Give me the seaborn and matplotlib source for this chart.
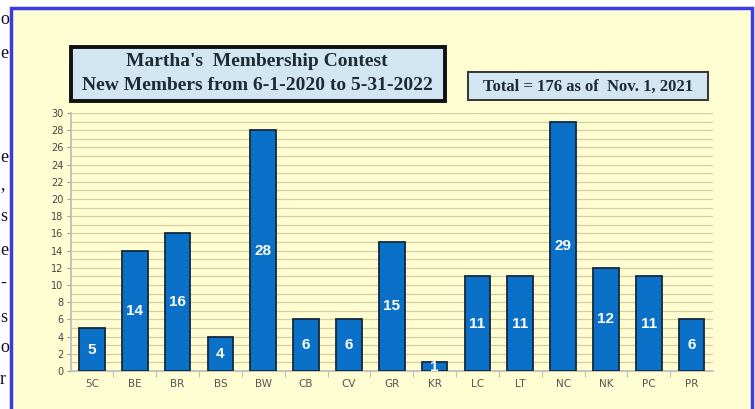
import pandas as pd
import matplotlib.pyplot as plt
import seaborn as sns
from matplotlib.patches import Rectangle
from matplotlib.ticker import MultipleLocator

clubs = ['5C', 'BE', 'BR', 'BS', 'BW', 'CB', 'CV', 'GR', 'KR', 'LC', 'LT', 'NC', 'NK', 'PC', 'PR']
members = [5, 14, 16, 4, 28, 6, 6, 15, 1, 11, 11, 29, 12, 11, 6]
title_lines = ["Martha's  Membership Contest", "New Members from 6-1-2020 to 5-31-2022"]
total_text = "Total = 176 as of  Nov. 1, 2021"
# stray letters from the page the chart was cut out of
margin_chars = ['o', 'e', 'e', ',', 's', 'e', '-', 's', 'o', 'r']
margin_y = [20, 53, 157, 185, 217, 250, 283, 317, 348, 380]

df = pd.DataFrame({'club': clubs, 'members': members})

sns.set_theme(style='white')
W, H = 755, 409
fig = plt.figure(figsize=(W / 100, H / 100), dpi=100)
fig.patch.set_facecolor('white')

def fx(px):
    return px / W

def fy(py):
    return 1 - py / H

# yellow panel with blue frame
fig.patches.append(Rectangle((fx(11), fy(412)), fx(741), (412 - 8) / H,
                             transform=fig.transFigure, facecolor='#FFFDD2',
                             edgecolor='#3A3AE6', linewidth=2.5, zorder=0))

for ch, yy in zip(margin_chars, margin_y):
    fig.text(fx(0), fy(yy), ch, fontsize=13, family='Liberation Serif',
             color='#111111', va='center', ha='left')

ax = fig.add_axes([fx(70.5), fy(371), fx(713 - 70.5), (371 - 113) / H])
ax.set_zorder(3)
ax.set_facecolor('#FFFDD2')

sns.barplot(data=df, x='club', y='members', color='#0B70C8', saturation=1,
            edgecolor='#14283C', linewidth=1.3, width=0.6, ax=ax, zorder=3)

for c in ax.containers:
    ax.bar_label(c, label_type='center', color='white', fontsize=11,
                 fontweight='bold', family='Liberation Sans')

ax.set_ylim(0, 30)
ax.set_xlim(-0.5, len(clubs) - 0.5)
ax.yaxis.set_major_locator(MultipleLocator(2))
ax.yaxis.set_minor_locator(MultipleLocator(1))
ax.grid(True, which='both', axis='y', color='#D6CE9F', linewidth=0.9, zorder=0)
ax.set_axisbelow(True)
ax.set_xlabel('')
ax.set_ylabel('')
for s in ['top', 'right']:
    ax.spines[s].set_visible(False)
ax.spines['left'].set_color('#BDBDBD')
ax.spines['bottom'].set_color('#BDBDBD')
ax.tick_params(axis='y', labelsize=7, colors='#9A9A9A', labelcolor='#444444',
               length=3, width=0.8, pad=2, left=True)
ax.tick_params(axis='y', which='minor', length=0)
ax.tick_params(axis='x', labelsize=7.5, labelcolor='#555555', length=0, pad=6)
# small separators between categories on the x axis
ax.set_xticks([i + 0.5 for i in range(len(clubs) - 1)], minor=True)
ax.tick_params(axis='x', which='minor', bottom=True, length=4, color='#BDBDBD', width=0.8)

# title box
fig.patches.append(Rectangle((fx(71), fy(101)), fx(374), (101 - 47) / H,
                             transform=fig.transFigure, facecolor='#D2E6F2',
                             edgecolor='#111111', linewidth=2.8, zorder=5))
fig.text(fx(257), fy(62), title_lines[0], ha='center', va='center',
         fontsize=14, fontweight='bold', family='Liberation Serif', color='#1E2A35', zorder=6)
fig.text(fx(257), fy(86), title_lines[1], ha='center', va='center',
         fontsize=14, fontweight='bold', family='Liberation Serif', color='#1E2A35', zorder=6)

# total box
fig.patches.append(Rectangle((fx(468), fy(100)), fx(240), (100 - 72) / H,
                             transform=fig.transFigure, facecolor='#D2E6F2',
                             edgecolor='#333333', linewidth=1.4, zorder=5))
fig.text(fx(588), fy(86.5), total_text, ha='center', va='center',
         fontsize=12, fontweight='bold', family='Liberation Serif', color='#1E2A35', zorder=6)

fig.savefig('out.png', dpi=100)
